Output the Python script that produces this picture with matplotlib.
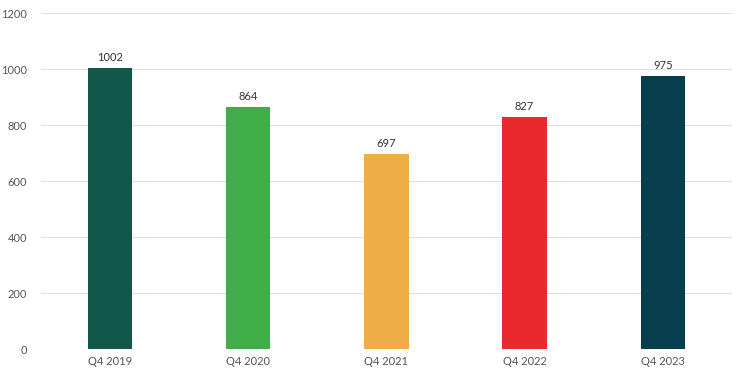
import matplotlib
matplotlib.use("Agg")
import matplotlib.pyplot as plt

categories = ["Q4 2019", "Q4 2020", "Q4 2021", "Q4 2022", "Q4 2023"]
values = [1002, 864, 697, 827, 975]
colors = ["#12574a", "#41ad49", "#efad48", "#e8292d", "#083d4d"]

plt.rcParams["font.family"] = ["Lato", "DejaVu Sans"]

fig = plt.figure(figsize=(7.46, 3.75), dpi=100)
ax = fig.add_axes([0.055, 0.0693, 0.926, 0.896])

x = range(len(categories))
bars = ax.bar(x, values, width=0.32, color=colors, zorder=3)
for b, v in zip(bars, values):
    ax.text(b.get_x() + b.get_width() / 2, v + 18, str(v),
            ha="center", va="bottom", fontsize=8, color="#333333")

ax.set_xlim(-0.5, len(categories) - 0.5)
ax.set_ylim(0, 1200)
ax.set_yticks(range(0, 1201, 200))
ax.set_xticks(list(x))
ax.set_xticklabels(categories)
ax.grid(axis="y", color="#e0e0e0", linewidth=0.8, zorder=0)
for s in ax.spines.values():
    s.set_visible(False)
ax.tick_params(length=0, labelsize=8, labelcolor="#555555")
ax.tick_params(axis="y", pad=10)
ax.tick_params(axis="x", pad=5)

fig.savefig("out.png", dpi=100)
